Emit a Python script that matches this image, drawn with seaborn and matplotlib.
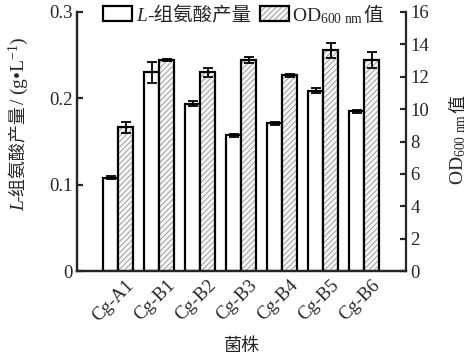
import pandas as pd
import seaborn as sns
import matplotlib.pyplot as plt
from matplotlib.patches import Rectangle
from matplotlib.transforms import IdentityTransform, ScaledTranslation
from matplotlib.offsetbox import AnchoredOffsetbox, HPacker, TextArea, DrawingArea

strains = ["Cg-A1", "Cg-B1", "Cg-B2", "Cg-B3", "Cg-B4", "Cg-B5", "Cg-B6"]
his_yield = [0.108, 0.230, 0.194, 0.157, 0.171, 0.209, 0.185]      # g/L
his_err = [0.002, 0.012, 0.003, 0.002, 0.002, 0.003, 0.002]
od600 = [8.88, 13.03, 12.27, 13.01, 12.09, 13.63, 13.03]
od_err = [0.33, 0.05, 0.26, 0.19, 0.08, 0.46, 0.51]

sns.set_style("ticks")
plt.rcParams['font.family'] = ['Liberation Serif', 'Noto Sans CJK SC']
plt.rcParams['mathtext.fontset'] = 'custom'
plt.rcParams['mathtext.rm'] = 'Liberation Serif'
plt.rcParams['mathtext.it'] = 'Liberation Serif:italic'
plt.rcParams['mathtext.sf'] = 'Liberation Serif'
plt.rcParams['hatch.linewidth'] = 0.6

HATCH_FC = "#f6f6f6"
HATCH_EC = "#909090"

lab_yield = "yield"
lab_od = "od"
df_y = pd.DataFrame({"strain": strains, "val": his_yield, "s": lab_yield})
df_o = pd.DataFrame({"strain": strains, "val": od600, "s": lab_od})
order = [lab_yield, lab_od]

W, H = 474, 363
fig = plt.figure(figsize=(W / 100, H / 100), dpi=100)
ax = fig.add_axes([77 / W, 1 - 271 / H, 329 / W, 259 / H])
ax2 = ax.twinx()

lw = 1.6
kw = dict(x="strain", y="val", hue="s", hue_order=order, order=strains,
          width=0.73, gap=0, dodge=True, errorbar=None, legend=False)
sns.barplot(data=df_y, facecolor="white", edgecolor="black", linewidth=lw, ax=ax, **kw)
# hatched OD bars: hatch pass, then black outline pass
sns.barplot(data=df_o, facecolor=HATCH_FC, edgecolor=HATCH_EC, linewidth=0,
            hatch="//////", ax=ax2, **kw)
sns.barplot(data=df_o, fill=False, edgecolor="black", linewidth=lw, ax=ax2, **kw)

# error bars at the bar centres seaborn produced
xs_y = sorted(p.get_x() + p.get_width() / 2 for p in ax.patches if p.get_height() > 0)
xs_o = sorted(p.get_x() + p.get_width() / 2 for p in ax2.patches if p.get_height() > 0)[::2]
ax.errorbar(xs_y, his_yield, yerr=his_err, fmt="none", ecolor="black",
            elinewidth=1.3, capsize=3.5, capthick=1.3, zorder=5)
ax2.errorbar(xs_o, od600, yerr=od_err, fmt="none", ecolor="black",
             elinewidth=1.3, capsize=3.5, capthick=1.3, zorder=5)

ax.set_xlim(-1.0, 7.02)
ax.set_ylim(0, 0.3)
ax2.set_ylim(0, 16)
ax.set_yticks([0, 0.1, 0.2, 0.3])
ax.set_yticklabels(["0", "0.1", "0.2", "0.3"])
ax2.set_yticks(range(0, 17, 2))

for a in (ax, ax2):
    for sp in a.spines.values():
        sp.set_linewidth(lw)
    a.spines["top"].set_visible(False)
ax.spines["right"].set_visible(False)
ax.tick_params(axis="y", direction="in", length=4, width=lw, labelsize=13.5, pad=3)
ax.tick_params(axis="x", length=0, labelsize=13.5, pad=4)
ax2.tick_params(axis="y", direction="in", length=4, width=lw, labelsize=13.5, pad=3)
shift = ScaledTranslation(7 / 100, 0, fig.dpi_scale_trans)
for lab in ax.get_xticklabels():
    lab.set_rotation(45)
    lab.set_ha("right")
    lab.set_rotation_mode("anchor")
    lab.set_transform(lab.get_transform() + shift)

ax.set_xlabel("菌株", fontsize=13, labelpad=10)
ax.set_ylabel("")
ax2.set_ylabel("")

# rotated axis titles built from pieces so Chinese keeps its full size
renderer = fig.canvas.get_renderer()


def vertical_label(x_px, yc_px, pieces):
    texts = []
    for s, props, dx in pieces:
        t = fig.text(0, 0, s, transform=IdentityTransform(), rotation=90,
                     rotation_mode="anchor", ha="left", va="baseline", **props)
        texts.append((t, dx, t.get_window_extent(renderer).height))
    y = yc_px - sum(h for _, _, h in texts) / 2
    for t, dx, h in texts:
        t.set_position((x_px + dx, y))
        y += h


vertical_label(24, H - 124, [
    ("L", dict(fontsize=14, fontstyle="italic"), 0),
    ("-组氨酸产量", dict(fontsize=13), 0),
    ("/ (g•L$^{-1}$)", dict(fontsize=14), 0),
])
vertical_label(463, H - 140, [
    ("OD$_{\\mathsf{600\\ nm}}$", dict(fontsize=14), 0),
    ("值", dict(fontsize=13), 0),
])


# legend
def swatch(hatched):
    da = DrawingArea(21, 10.5, 0, 0)
    if hatched:
        da.add_artist(Rectangle((0, 0), 21, 10.5, facecolor=HATCH_FC, edgecolor=HATCH_EC,
                                linewidth=0, hatch="//////"))
    else:
        da.add_artist(Rectangle((0, 0), 21, 10.5, facecolor="white", linewidth=0))
    da.add_artist(Rectangle((0, 0), 21, 10.5, facecolor="none", edgecolor="black",
                            linewidth=lw))
    return da


def gap(w):
    return DrawingArea(w, 1, 0, 0)


items = [
    swatch(False), gap(3),
    TextArea("L", textprops=dict(fontsize=14, fontstyle="italic")),
    TextArea("-组氨酸产量", textprops=dict(fontsize=14)), gap(6),
    swatch(True), gap(2),
    TextArea("OD$_{\\mathsf{600\\ nm}}$", textprops=dict(fontsize=14)),
    TextArea("值", textprops=dict(fontsize=14)),
]
box = HPacker(children=items, align="baseline", pad=0, sep=0)
leg = AnchoredOffsetbox(loc="upper left", child=box, pad=0, borderpad=0, frameon=False,
                        bbox_to_anchor=(103 / W, 1 - 6 / H), bbox_transform=fig.transFigure)
fig.add_artist(leg)

fig.savefig("out.png", dpi=100)
